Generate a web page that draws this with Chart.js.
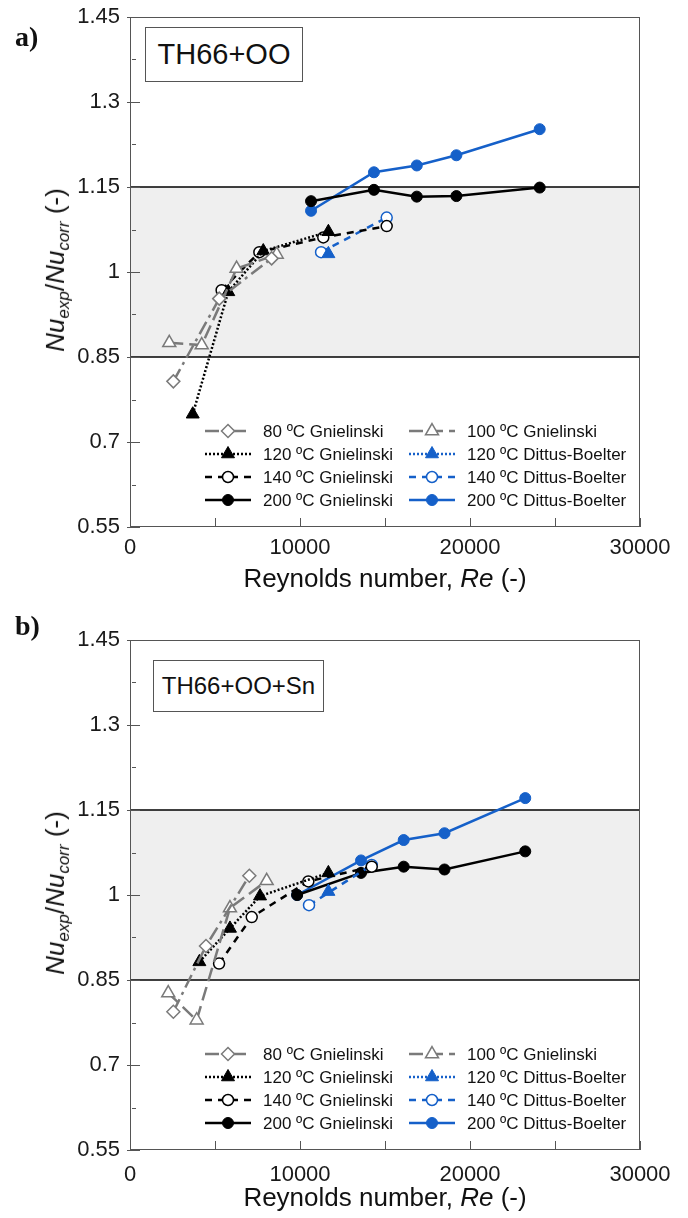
<!DOCTYPE html>
<html>
<head>
<meta charset="utf-8">
<script src="https://cdn.jsdelivr.net/npm/chart.js@4.4.1/dist/chart.umd.min.js"></script>
<style>
  body { margin: 0; background: #fff; }
  #wrap { position: relative; width: 688px; height: 1218px; font-family: Arial, "Liberation Sans", sans-serif; color: #111; }
  canvas { position: absolute; left: 0; }
  #chartA { top: 0; }
  #chartB { top: 623px; }
  .panel { position: absolute; left: 15px; font: bold 28px "Liberation Serif", "Times New Roman", serif; transform: translateY(-50%); }
  .tag { position: absolute; border: 1px solid #555; background: #fff; display: flex; align-items: center; justify-content: center; box-sizing: border-box; }
  .xtitle { position: absolute; left: 385px; transform: translate(-50%, -50%); font-size: 26px; white-space: nowrap; }
  .ytitle { position: absolute; left: 57px; transform: translate(-50%, -50%) rotate(-90deg); font-size: 26px; white-space: nowrap; }
  .ytitle sub { font-size: 17px; vertical-align: -0.3em; font-style: italic; }
</style>
</head>
<body>
<div id="wrap">
  <canvas id="chartA" width="688" height="623"></canvas>
  <canvas id="chartB" width="688" height="595"></canvas>
  <div class="panel" style="top:37px">a)</div>
  <div class="panel" style="top:626px">b)</div>
  <div class="tag" style="left:145px; top:27px; width:158px; height:55px; font-size:29px;">TH66+OO</div>
  <div class="tag" style="left:153px; top:660px; width:171px; height:52px; font-size:24px;">TH66+OO+Sn</div>
  <div class="xtitle" style="top:578px">Reynolds number, <i>Re</i> (-)</div>
  <div class="xtitle" style="top:1197px">Reynolds number, <i>Re</i> (-)</div>
  <div class="ytitle" style="top:270px"><i>Nu</i><sub>exp</sub>/<i>Nu</i><sub>corr</sub> (-)</div>
  <div class="ytitle" style="top:893px"><i>Nu</i><sub>exp</sub>/<i>Nu</i><sub>corr</sub> (-)</div>
</div>
<script>
// axis ranges and the +/-15 % band
const reTicks = [0, 10000, 20000, 30000];
const nuTicks = [0.55, 0.7, 0.85, 1, 1.15, 1.3, 1.45];
const bandLow = 0.85;
const bandHigh = 1.15;

// a) TH66+OO
const a80Re = [2550, 5250, 8330];
const a80Nu = [0.807, 0.953, 1.024];
const a100Re = [2310, 4220, 6270, 8630];
const a100Nu = [0.875, 0.871, 1.006, 1.031];
const a120GRe = [3690, 5780, 7840, 11670];
const a120GNu = [0.749, 0.965, 1.037, 1.071];
const a120DRe = [11670];
const a120DNu = [1.032];
const a140GRe = [5390, 7610, 11370, 15100];
const a140GNu = [0.968, 1.035, 1.061, 1.081];
const a140DRe = [11240, 15100];
const a140DNu = [1.035, 1.096];
const a200GRe = [10650, 14350, 16870, 19200, 24100];
const a200GNu = [1.125, 1.145, 1.133, 1.134, 1.149];
const a200DRe = [10650, 14350, 16870, 19200, 24100];
const a200DNu = [1.108, 1.176, 1.188, 1.206, 1.252];

// b) TH66+OO+Sn
const b80Re = [2550, 4470, 7020];
const b80Nu = [0.794, 0.91, 1.034];
const b100Re = [2250, 3920, 5880, 8040];
const b100Nu = [0.827, 0.779, 0.977, 1.025];
const b120GRe = [4080, 5880, 7650, 11670];
const b120GNu = [0.882, 0.941, 0.998, 1.039];
const b120DRe = [11670];
const b120DNu = [1.006];
const b140GRe = [5240, 7160, 10490, 14220];
const b140GNu = [0.879, 0.961, 1.024, 1.05];
const b140DRe = [10530, 14220];
const b140DNu = [0.982, 1.053];
const b200GRe = [9830, 13590, 16100, 18500, 23250];
const b200GNu = [1.0, 1.039, 1.05, 1.045, 1.077];
const b200DRe = [9830, 13590, 16100, 18500, 23250];
const b200DNu = [1.0, 1.061, 1.097, 1.109, 1.171];

const GREY = '#7a7a7a', BLACK = '#000000', BLUE = '#1560c9';
const FONT = 'Arial, "Liberation Sans", sans-serif';

// legend slots: [column, row]
const legendSlots = [[0, 0], [1, 0], [0, 1], [1, 1], [0, 2], [1, 2], [0, 3], [1, 3]];
const legendCols = [205, 409];
const legendRows = [414, 437, 460, 483];

function series(label, re, nu, color, style, open, dash, radius) {
    return {
        label,
        data: re.map((r, i) => ({ x: r, y: nu[i] })),
        borderColor: color,
        backgroundColor: color,
        pointBackgroundColor: open ? '#ffffff' : color,
        pointBorderColor: color,
        pointBorderWidth: open ? 1.5 : 1,
        pointStyle: style,
        pointRadius: radius,
        borderDash: dash,
        borderWidth: 2.5,
        showLine: true
    };
}

function buildSets(d) {
    return [
        series('80 ºC Gnielinski', d[0], d[1], GREY, 'rectRot', true, [14, 5, 3, 5], 6.5),
        series('100 ºC Gnielinski', d[2], d[3], GREY, 'triangle', true, [14, 6], 7.5),
        series('120 ºC Gnielinski', d[4], d[5], BLACK, 'triangle', false, [2, 2], 7.5),
        series('120 ºC Dittus-Boelter', d[6], d[7], BLUE, 'triangle', false, [2, 2], 7.5),
        series('140 ºC Gnielinski', d[8], d[9], BLACK, 'circle', true, [7, 6], 5.5),
        series('140 ºC Dittus-Boelter', d[10], d[11], BLUE, 'circle', true, [7, 6], 5.5),
        series('200 ºC Gnielinski', d[12], d[13], BLACK, 'circle', false, [], 5.5),
        series('200 ºC Dittus-Boelter', d[14], d[15], BLUE, 'circle', false, [], 5.5)
    ];
}

function drawMarker(ctx, ds, x, y) {
    const r = ds.pointRadius;
    ctx.beginPath();
    if (ds.pointStyle === 'circle') {
        ctx.arc(x, y, r, 0, Math.PI * 2);
    } else if (ds.pointStyle === 'triangle') {
        let rad = 0;
        ctx.moveTo(x + Math.sin(rad) * r, y - Math.cos(rad) * r);
        rad += Math.PI * 2 / 3;
        ctx.lineTo(x + Math.sin(rad) * r, y - Math.cos(rad) * r);
        rad += Math.PI * 2 / 3;
        ctx.lineTo(x + Math.sin(rad) * r, y - Math.cos(rad) * r);
        ctx.closePath();
    } else {
        ctx.moveTo(x, y - r);
        ctx.lineTo(x + r, y);
        ctx.lineTo(x, y + r);
        ctx.lineTo(x - r, y);
        ctx.closePath();
    }
    ctx.setLineDash([]);
    ctx.fillStyle = ds.pointBackgroundColor;
    ctx.fill();
    ctx.lineWidth = ds.pointBorderWidth;
    ctx.strokeStyle = ds.pointBorderColor;
    ctx.stroke();
}

const bandPlugin = {
    id: 'band',
    beforeDatasetsDraw(chart) {
        const { ctx, chartArea: a, scales: { y } } = chart;
        const top = y.getPixelForValue(bandHigh), bot = y.getPixelForValue(bandLow);
        ctx.save();
        ctx.fillStyle = '#efefef';
        ctx.fillRect(a.left, top, a.right - a.left, bot - top);
        ctx.strokeStyle = '#000';
        ctx.lineWidth = 1.5;
        [top, bot].forEach(py => {
            ctx.beginPath();
            ctx.moveTo(a.left, py);
            ctx.lineTo(a.right, py);
            ctx.stroke();
        });
        ctx.restore();
    }
};

// plot frame, inward ticks and the two-column legend
const framePlugin = {
    id: 'frame',
    afterDatasetsDraw(chart) {
        const { ctx, chartArea: a, scales: { x, y } } = chart;
        ctx.save();
        ctx.strokeStyle = '#555';
        ctx.lineWidth = 1;
        ctx.strokeRect(a.left + 0.5, a.top + 0.5, a.right - a.left - 1, a.bottom - a.top - 1);
        y.ticks.forEach(t => {
            const py = Math.round(y.getPixelForValue(t.value)) + 0.5;
            const major = t.label !== '';
            ctx.beginPath();
            ctx.moveTo(a.left + (major ? -3 : 2), py);
            ctx.lineTo(a.left + (major ? 10 : 6), py);
            ctx.stroke();
        });
        x.ticks.forEach(t => {
            const px = Math.round(x.getPixelForValue(t.value)) + 0.5;
            ctx.beginPath();
            ctx.moveTo(px, a.bottom);
            ctx.lineTo(px, a.bottom - 9);
            ctx.stroke();
        });

        ctx.font = '17px ' + FONT;
        ctx.textBaseline = 'middle';
        chart.data.datasets.forEach((ds, i) => {
            const [c, r] = legendSlots[i];
            const x0 = legendCols[c];
            const ly = a.top + legendRows[r];
            ctx.beginPath();
            ctx.setLineDash(ds.borderDash);
            ctx.strokeStyle = ds.borderColor;
            ctx.lineWidth = ds.borderWidth;
            ctx.moveTo(x0, ly);
            ctx.lineTo(x0 + 46, ly);
            ctx.stroke();
            drawMarker(ctx, ds, x0 + 23, ly);
            ctx.fillStyle = '#111';
            ctx.fillText(ds.label, x0 + 58, ly + 1);
        });
        ctx.restore();
    }
};

function makeChart(id, sets, xHeight, xPad) {
    return new Chart(document.getElementById(id), {
        type: 'scatter',
        data: { datasets: sets },
        options: {
            responsive: false,
            animation: false,
            devicePixelRatio: 1,
            layout: { padding: { top: 17, right: 48, left: 0, bottom: 0 } },
            plugins: { legend: { display: false }, tooltip: { enabled: false } },
            elements: { line: { tension: 0 } },
            scales: {
                x: {
                    type: 'linear', min: 0, max: 30000,
                    border: { display: false },
                    grid: { display: false, drawTicks: false },
                    ticks: {
                        stepSize: 5000, padding: xPad, color: '#1a1a1a',
                        font: { family: FONT, size: 22 },
                        maxRotation: 0,
                        callback: v => reTicks.includes(v) ? String(v) : ''
                    },
                    afterFit: s => { s.height = xHeight; s.paddingLeft = 0; s.paddingRight = 0; }
                },
                y: {
                    type: 'linear', min: 0.55, max: 1.45,
                    border: { display: false },
                    grid: { display: false, drawTicks: false },
                    ticks: {
                        stepSize: 0.075, padding: 10, color: '#1a1a1a',
                        font: { family: FONT, size: 22 },
                        callback: v => {
                            const hit = nuTicks.find(n => Math.abs(n - v) < 1e-6);
                            return hit === undefined ? '' : String(hit);
                        }
                    },
                    afterFit: s => { s.width = 130; s.paddingTop = 0; s.paddingBottom = 0; }
                }
            }
        },
        plugins: [bandPlugin, framePlugin]
    });
}

makeChart('chartA', buildSets([a80Re, a80Nu, a100Re, a100Nu, a120GRe, a120GNu, a120DRe, a120DNu,
    a140GRe, a140GNu, a140DRe, a140DNu, a200GRe, a200GNu, a200DRe, a200DNu]), 96, 8);
makeChart('chartB', buildSets([b80Re, b80Nu, b100Re, b100Nu, b120GRe, b120GNu, b120DRe, b120DNu,
    b140GRe, b140GNu, b140DRe, b140DNu, b200GRe, b200GNu, b200DRe, b200DNu]), 68, 12);
</script>
</body>
</html>
